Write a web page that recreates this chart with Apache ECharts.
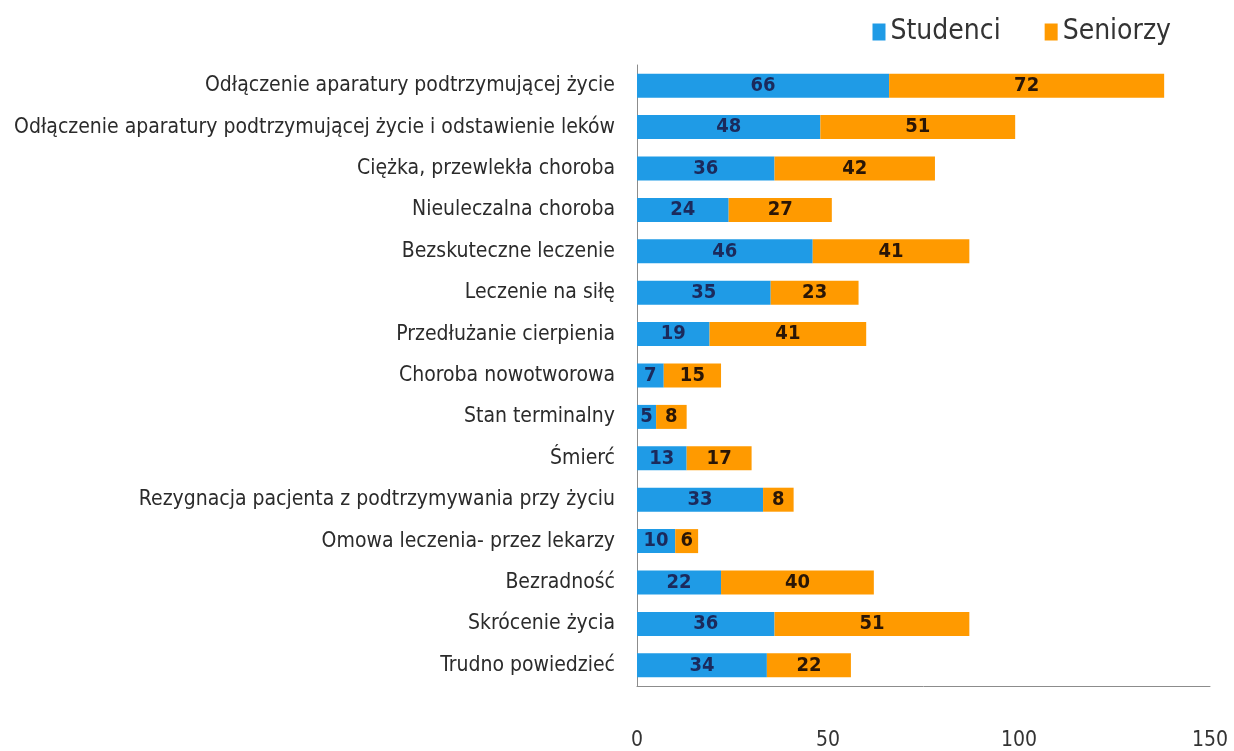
<!DOCTYPE html>
<html>
<head>
<meta charset="utf-8">
<script src="https://cdn.jsdelivr.net/npm/echarts@6/dist/echarts.min.js"></script>
<style>
  html, body { margin: 0; padding: 0; background: #fff; }
  #chart { width: 1234px; height: 751px; }
</style>
</head>
<body>
<div id="chart"></div>
<script>
const categories = [
  "Odłączenie aparatury podtrzymującej życie",
  "Odłączenie aparatury podtrzymującej życie i odstawienie leków",
  "Ciężka, przewlekła choroba",
  "Nieuleczalna choroba",
  "Bezskuteczne leczenie",
  "Leczenie na siłę",
  "Przedłużanie cierpienia",
  "Choroba nowotworowa",
  "Stan terminalny",
  "Śmierć",
  "Rezygnacja pacjenta z podtrzymywania przy życiu",
  "Omowa leczenia- przez lekarzy",
  "Bezradność",
  "Skrócenie życia",
  "Trudno powiedzieć",
];
const studenci = [66, 48, 36, 24, 46, 35, 19, 7, 5, 13, 33, 10, 22, 36, 34];
const seniorzy = [72, 51, 42, 27, 41, 23, 41, 15, 8, 17, 8, 6, 40, 51, 22];
const xTicks = [0, 50, 100, 150];

const font = "'DejaVu Sans Condensed', 'DejaVu Sans', sans-serif";
const blue = "#1f9be6";
const orange = "#ff9a00";

const chart = echarts.init(document.getElementById("chart"));

const barLabel = (color) => ({
  show: true,
  position: "inside",
  color,
  fontFamily: font,
  fontWeight: "bold",
  fontSize: 20,
});

chart.setOption({
  backgroundColor: "#fff",
  animation: false,
  legend: {
    right: 58,
    top: 13,
    itemWidth: 13,
    itemHeight: 17,
    itemGap: 44,
    icon: "rect",
    textStyle: { fontFamily: font, fontSize: 28, color: "#333" },
    data: ["Studenci", "Seniorzy"],
  },
  grid: { left: 637, right: 24, top: 65, bottom: 65, containLabel: false },
  xAxis: {
    type: "value",
    min: xTicks[0],
    max: xTicks[xTicks.length - 1],
    interval: 50,
    axisLine: { show: true, lineStyle: { color: "#8c8c8c", width: 1 } },
    axisTick: { show: false },
    splitLine: { show: false },
    axisLabel: {
      margin: 44,
      color: "#333",
      fontFamily: font,
      fontSize: 21,
    },
  },
  yAxis: {
    type: "category",
    inverse: true,
    data: categories,
    axisLine: { show: true, lineStyle: { color: "#8c8c8c", width: 1 } },
    axisTick: { show: false },
    axisLabel: {
      margin: 22,
      color: "#2b2b2b",
      fontFamily: font,
      fontSize: 21,
    },
  },
  series: [
    {
      name: "Studenci",
      type: "bar",
      stack: "total",
      barWidth: 24,
      data: studenci,
      itemStyle: { color: blue },
      label: barLabel("#1b2a5c"),
    },
    {
      name: "Seniorzy",
      type: "bar",
      stack: "total",
      barWidth: 24,
      data: seniorzy,
      itemStyle: { color: orange },
      label: barLabel("#2a1606"),
    },
  ],
});
</script>
</body>
</html>
